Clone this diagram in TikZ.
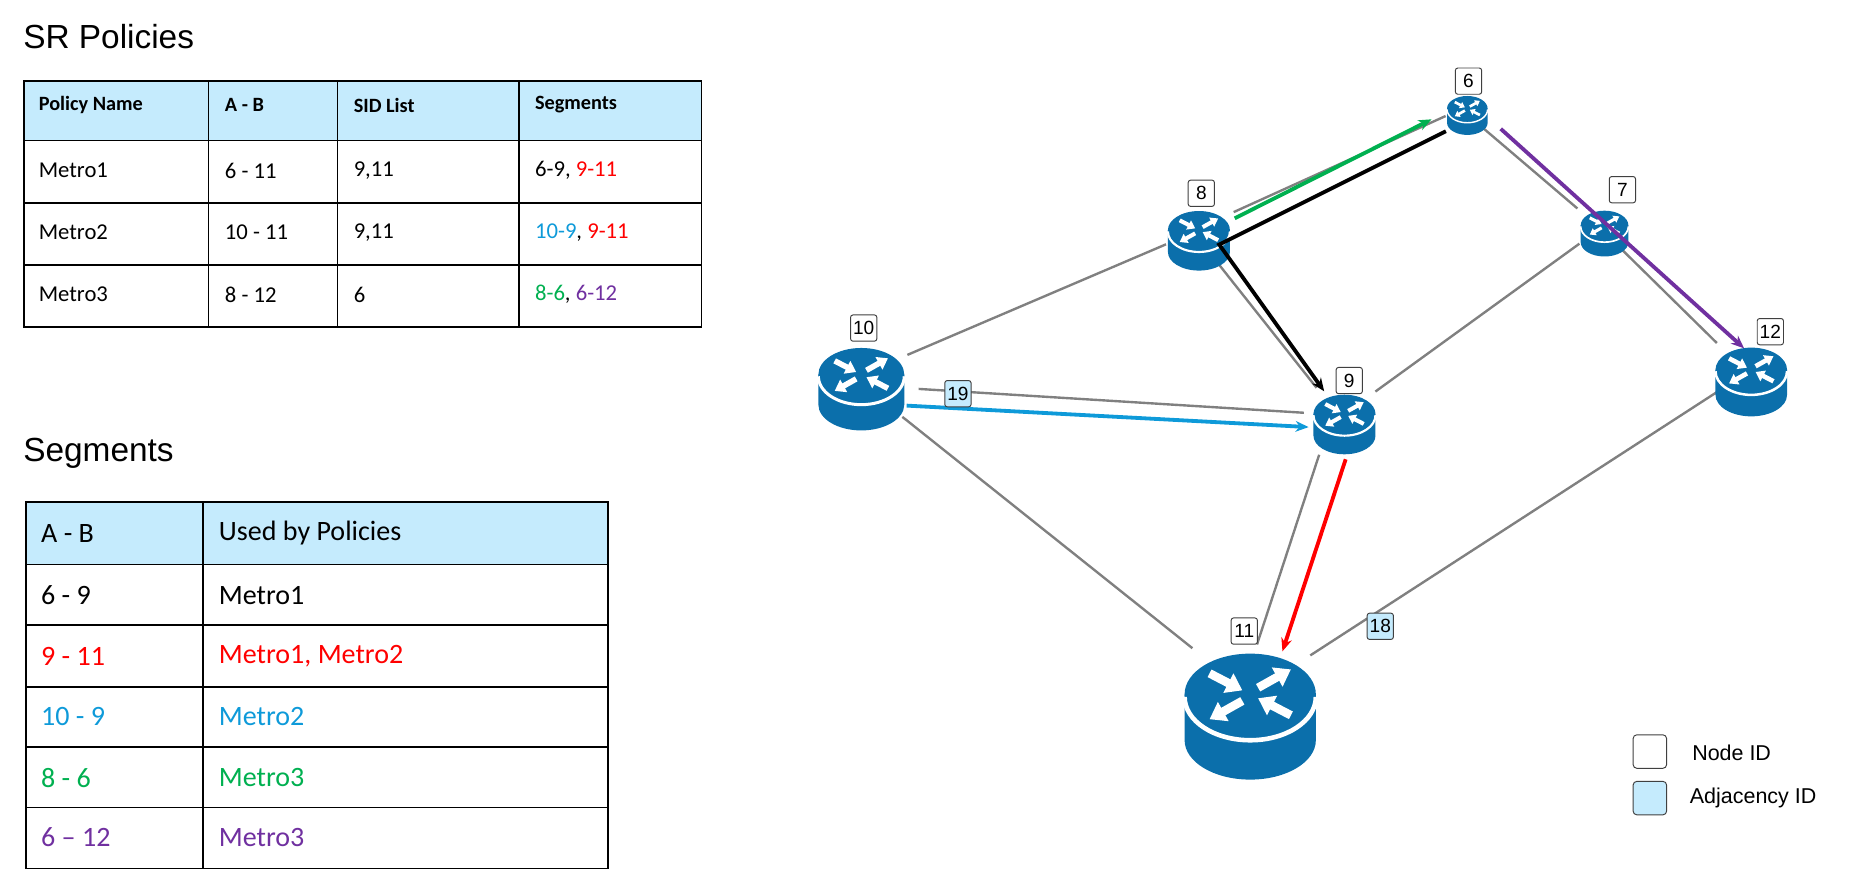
\documentclass[tikz,border=0pt]{standalone}
\usepackage{fontspec}
\setmainfont{Carlito}
\newfontfamily\arialf{Liberation Sans}
\usetikzlibrary{arrows.meta,calc}
\definecolor{rb}{HTML}{0B6FAB}
\definecolor{hb}{HTML}{C5EBFD}
\definecolor{cred}{HTML}{FF0000}
\definecolor{cblue}{HTML}{0E9AD9}
\definecolor{cgreen}{HTML}{00B050}
\definecolor{cpur}{HTML}{7030A0}
\definecolor{lk}{HTML}{808080}
\tikzset{
 x=1pt,y=-1pt,
 pics/router/.style={code={
  \begin{scope}[scale=#1]
   \fill[rb] (-1,0) -- (-1,0.7) arc[start angle=180,end angle=0,x radius=1,y radius=0.6] -- (1,0) -- cycle;
   \fill[rb] (0,0) ellipse[x radius=1,y radius=0.62];
   \draw[white,line width={0.07*#1}] (-1,0.04) arc[start angle=180,end angle=0,x radius=1,y radius=0.66];
   \foreach \a/\b in {{(-0.62,-0.32)}/{(-0.12,-0.06)},{(0.12,-0.1)}/{(0.62,-0.38)},{(-0.12,0.1)}/{(-0.62,0.38)},{(0.62,0.32)}/{(0.12,0.06)}}
     \draw[white,line width={0.13*#1},-{Triangle[length={0.24*#1},width={0.32*#1}]}] \a -- \b;
  \end{scope}}},
 idbox/.style={draw=black!75,fill=white,rounded corners=2,line width=0.8,minimum width=22,minimum height=22,inner sep=1,font=\arialf\fontsize{16}{16}\selectfont},
 adjbox/.style={idbox,fill=hb},
 link/.style={lk,line width=2},
 path/.style={line width=3.2,-{Stealth[length=11,width=9]}},
 cell/.style={anchor=west,font=\fontsize{19}{22}\selectfont},
 hcell/.style={anchor=west,font=\bfseries\fontsize{17}{20}\selectfont},
 cell2/.style={anchor=west,font=\fontsize{23.5}{27}\selectfont},
 ttl/.style={anchor=west,font=\arialf\fontsize{28}{30}\selectfont},
}
\begin{document}
\begin{tikzpicture}
\useasboundingbox (0,0) rectangle (1560,732);
% titles
\node[ttl] (t1) at (16,31) {SR Policies};
\node[ttl] (t2) at (16,380) {Segments};
% table 1
\fill[hb] (20,68) rectangle (588,118);
\draw[line width=1.6] (20,68) rectangle (588,274);
\foreach \y in {118,170,222} \draw[line width=1.2] (20,\y) -- (588,\y);
\foreach \x in {175,283,435} \draw[line width=1.2] (\x,68) -- (\x,274);
\node[hcell] (h1) at (29,88) {Policy Name};
\node[hcell] (h2) at (185,88) {A - B};
\node[hcell] (h3) at (293,88) {SID List};
\node[hcell] (h4) at (445,88) {Segments};
\node[cell] (a1) at (29,143) {Metro1};
\node[cell] (a2) at (185,143) {6 - 11};
\node[cell] (a3) at (293,143) {9,11};
\node[cell] (a4) at (445,143) {6-9, \textcolor{cred}{9-11}};
\node[cell] (b1) at (29,195) {Metro2};
\node[cell] (b2) at (185,195) {10 - 11};
\node[cell] (b3) at (293,195) {9,11};
\node[cell] (b4) at (445,195) {\textcolor{cblue}{10-9}, \textcolor{cred}{9-11}};
\node[cell] (c1) at (29,247) {Metro3};
\node[cell] (c2) at (185,247) {8 - 12};
\node[cell] (c3) at (293,247) {6};
\node[cell] (c4) at (445,247) {\textcolor{cgreen}{8-6}, \textcolor{cpur}{6-12}};
% table 2
\fill[hb] (22,421) rectangle (510,473);
\draw[line width=1.6] (22,421) rectangle (510,728);
\foreach \y in {473,524,576,626,677} \draw[line width=1.2] (22,\y) -- (510,\y);
\draw[line width=1.2] (170,421) -- (170,728);
\node[cell2] (s0a) at (31,447) {A - B};
\node[cell2] (s0b) at (180,447) {Used by Policies};
\node[cell2] (s1a) at (31,499) {6 - 9};
\node[cell2] (s1b) at (180,499) {Metro1};
\node[cell2,cred] (s2a) at (31,550) {9 - 11};
\node[cell2,cred] (s2b) at (180,550) {Metro1, Metro2};
\node[cell2,cblue] (s3a) at (31,601) {10 - 9};
\node[cell2,cblue] (s3b) at (180,601) {Metro2};
\node[cell2,cgreen] (s4a) at (31,652) {8 - 6};
\node[cell2,cgreen] (s4b) at (180,652) {Metro3};
\node[cell2,cpur] (s5a) at (31,702) {6 -- 12};
\node[cell2,cpur] (s5b) at (180,702) {Metro3};
% router positions
\coordinate (r10) at (722,314);
\coordinate (r8) at (1005,193);
\coordinate (r6) at (1230,91);
\coordinate (r7) at (1345,189);
\coordinate (r9) at (1127,347);
\coordinate (r12) at (1468,310);
\coordinate (r11) at (1048,582);
% links
\draw[link,shorten <=42,shorten >=30] (r10) -- (r8);
\draw[link] ([xshift=48,yshift=-12]r10) -- ([xshift=-34,yshift=1]r9);
\draw[link,shorten <=44,shorten >=62] ([yshift=-8]r10) -- (r11);
\draw[link,shorten <=32,shorten >=20] ([yshift=2]r8) -- ([yshift=2]r6);
\draw[link,shorten <=32,shorten >=28] ([xshift=-6]r8) -- ([xshift=-6]r9);
\draw[link,shorten <=20,shorten >=22] ([xshift=-6]r6) -- ([xshift=-6]r7);
\draw[link,shorten <=24,shorten >=32] ([xshift=-6]r7) -- ([xshift=-6]r12);
\draw[link,shorten <=26,shorten >=32] (r7) -- (r9);
\draw[link,shorten <=36,shorten >=44] ([xshift=-10]r9) -- ([xshift=-8]r11);
\draw[link,shorten <=32,shorten >=60] (r12) -- (r11);
% routers
\pic at (r10) {router=36};
\pic at (r8) {router=26};
\pic at (r6) {router=17};
\pic at (r7) {router=20};
\pic at (r9) {router=26};
\pic at (r12) {router=30};
\pic at (r11) {router=55};
% coloured paths
\draw[path,cgreen] ([xshift=30,yshift=10]r8) -- ([xshift=-30,yshift=-9]r6);
\draw[path,black] ([xshift=-18,yshift=-19]r6) -- ([xshift=17,yshift=-12]r8) .. controls ([xshift=35,yshift=-37]r8) .. ([xshift=-17,yshift=19]r9);
\draw[path,cblue] ([xshift=38,yshift=-26]r10) -- ([xshift=-30,yshift=-11]r9);
\draw[path,cpur] ([xshift=28,yshift=-17]r6) -- ([xshift=-6,yshift=18]r12);
\draw[path,cred] ([xshift=1,yshift=-38]r9) -- ([xshift=27,yshift=36]r11);
% labels
\node[idbox] (n10) at (724,275) {10};
\node[idbox] (n8) at (1007,162) {8};
\node[idbox] (n6) at (1231,68) {6};
\node[idbox] (n7) at (1360,159) {7};
\node[idbox] (n9) at (1131,319) {9};
\node[idbox] (n12) at (1484,278) {12};
\node[idbox] (n11) at (1043,529) {11};
\node[adjbox] (a19) at (803,330) {19};
\node[adjbox] (a18) at (1157,525) {18};
% legend
\node[idbox,minimum width=28,minimum height=28,rounded corners=3] (lg1) at (1383,630) {};
\node[anchor=west,font=\arialf\fontsize{18}{20}\selectfont] (lg1t) at (1415,631) {Node ID};
\node[adjbox,minimum width=28,minimum height=28,rounded corners=3] (lg2) at (1383,669) {};
\node[anchor=west,font=\arialf\fontsize{18}{20}\selectfont] (lg2t) at (1413,669) {Adjacency ID};
\end{tikzpicture}
\end{document}
